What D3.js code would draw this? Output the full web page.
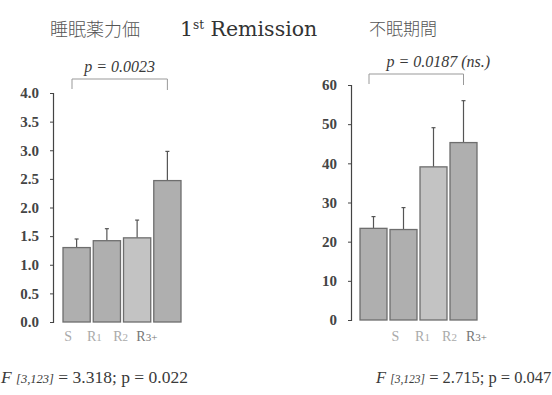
<!DOCTYPE html>
<html lang="ja">
<head>
  <meta charset="UTF-8">
  <title>1st Remission</title>
  <style>
    body { margin: 0; background: #fff; }
    svg text { font-family: "Liberation Serif", "DejaVu Serif", serif; fill: #3a3a3a; }
    .jp { font-family: "Noto Sans CJK JP", sans-serif; font-weight: 300; fill: #555; }
  </style>
</head>
<body>
  <svg id="chart" width="552" height="395"></svg>

  <script src="https://d3js.org/d3.v7.min.js"></script>
  <script>
    // データ
    const groups = ['S', 'R1', 'R2', 'R3+'];
    const potencyMean = [1.30, 1.42, 1.47, 2.47];
    const potencyErr = [0.15, 0.21, 0.31, 0.51];
    const insomniaMean = [23.4, 23.1, 39.1, 45.3];
    const insomniaErr = [3.0, 5.6, 10.0, 10.7];
    const potencyTicks = [0, 0.5, 1.0, 1.5, 2.0, 2.5, 3.0, 3.5, 4.0];
    const insomniaTicks = [0, 10, 20, 30, 40, 50, 60];

    const svg = d3.select('#chart');

    // 上のタイトル
    svg.append('text').attr('class', 'jp').attr('x', 50).attr('y', 36)
      .style('font-size', '18px').text('睡眠薬力価');
    const ttl = svg.append('text').attr('x', 180).attr('y', 36)
      .style('font-family', '"DejaVu Serif", serif').style('font-size', '20.5px').style('fill', '#333');
    ttl.append('tspan').text('1');
    ttl.append('tspan').attr('dy', -7).style('font-size', '12px').text('st');
    ttl.append('tspan').attr('dy', 7).text(' Remission');
    svg.append('text').attr('class', 'jp').attr('x', 369).attr('y', 35)
      .style('font-size', '17px').text('不眠期間');

    function drawPanel(cfg) {
      const g = svg.append('g');
      const y = d3.scaleLinear().domain(cfg.domain).range([cfg.bottom, cfg.top]);
      const x = d3.scaleBand().domain(groups).range([cfg.x0, cfg.x1]).paddingInner(0.1);
      const xl = d3.scaleBand().domain(groups).range(cfg.labelRange);

      // 軸
      const axis = g.append('g')
        .attr('transform', `translate(${cfg.axisX},0)`)
        .call(d3.axisLeft(y).tickValues(cfg.ticks).tickSize(3).tickFormat(cfg.fmt));
      axis.select('.domain').attr('stroke', '#444').attr('stroke-width', 1.2);
      axis.selectAll('.tick line').attr('stroke', '#444');
      axis.selectAll('.tick text')
        .attr('x', -cfg.labelGap)
        .style('font-size', '15px').style('font-weight', 'bold')
        .style('fill', '#444');

      // エラーバー
      g.selectAll('.err').data(groups).enter().append('line')
        .attr('x1', d => x(d) + x.bandwidth() / 2)
        .attr('x2', d => x(d) + x.bandwidth() / 2)
        .attr('y1', (d, i) => y(cfg.mean[i]))
        .attr('y2', (d, i) => y(cfg.mean[i] + cfg.err[i]))
        .attr('stroke', '#555').attr('stroke-width', 1.2);
      g.selectAll('.cap').data(groups).enter().append('line')
        .attr('x1', d => x(d) + x.bandwidth() / 2 - 2)
        .attr('x2', d => x(d) + x.bandwidth() / 2 + 2)
        .attr('y1', (d, i) => y(cfg.mean[i] + cfg.err[i]))
        .attr('y2', (d, i) => y(cfg.mean[i] + cfg.err[i]))
        .attr('stroke', '#555').attr('stroke-width', 1.2);

      // 棒
      g.selectAll('rect').data(groups).enter().append('rect')
        .attr('x', d => x(d))
        .attr('y', (d, i) => y(cfg.mean[i]))
        .attr('width', x.bandwidth())
        .attr('height', (d, i) => y(0) - y(cfg.mean[i]))
        .attr('fill', (d, i) => i === 2 ? '#c3c3c3' : '#afafaf')
        .attr('stroke', '#6e6e6e').attr('stroke-width', 1.3);

      // x ラベル
      g.selectAll('.xl').data(groups).enter().append('text')
        .attr('x', d => xl(d) + xl.bandwidth() / 2)
        .attr('y', 341)
        .attr('text-anchor', 'middle')
        .style('font-size', '14px')
        .style('fill', (d, i) => i === 3 ? '#777' : '#aaa')
        .each(function (d) {
          const t = d3.select(this);
          t.append('tspan').text(d[0]);
          if (d.length > 1) t.append('tspan').style('font-size', '11px').text(d.slice(1));
        });

      // 有意差のブラケット
      const bx0 = x(groups[0]) + 9, bx1 = x(groups[3]) + x.bandwidth() / 2;
      g.append('path')
        .attr('d', `M${bx0},${cfg.brY + 10}V${cfg.brY}H${bx1}V${cfg.brY + 11}`)
        .attr('fill', 'none').attr('stroke', '#999').attr('stroke-width', 1);
      g.append('text')
        .attr('x', (bx0 + bx1) / 2 + cfg.pShift).attr('y', cfg.brY - 7)
        .attr('text-anchor', 'middle')
        .style('font-size', '16px').style('font-style', 'italic')
        .text(cfg.pText);

      // F 値
      const f = g.append('text').attr('x', cfg.fX).attr('y', 383)
        .style('font-size', cfg.fSize + 'px');
      f.append('tspan').style('font-style', 'italic').text('F ');
      f.append('tspan').style('font-style', 'italic').style('font-size', (cfg.fSize - 5) + 'px').text(cfg.df);
      f.append('tspan').text(cfg.fText);
    }

    drawPanel({
      domain: [0, 4], top: 93, bottom: 322, axisX: 53, x0: 63, x1: 181,
      labelRange: [55, 160], labelGap: 14,
      ticks: potencyTicks, fmt: d3.format('.1f'),
      mean: potencyMean, err: potencyErr,
      brY: 79, pShift: 0, pText: 'p = 0.0023',
      fX: 1, fSize: 17.5, df: '[3,123]', fText: ' = 3.318; p = 0.022'
    });

    drawPanel({
      domain: [0, 60], top: 85, bottom: 320, axisX: 351, x0: 360, x1: 477,
      labelRange: [382, 490], labelGap: 14,
      ticks: insomniaTicks, fmt: d3.format('d'),
      mean: insomniaMean, err: insomniaErr,
      brY: 74, pShift: 22, pText: 'p = 0.0187 (ns.)',
      fX: 376, fSize: 16.5, df: '[3,123]', fText: ' = 2.715; p = 0.047'
    });
  </script>
</body>
</html>
